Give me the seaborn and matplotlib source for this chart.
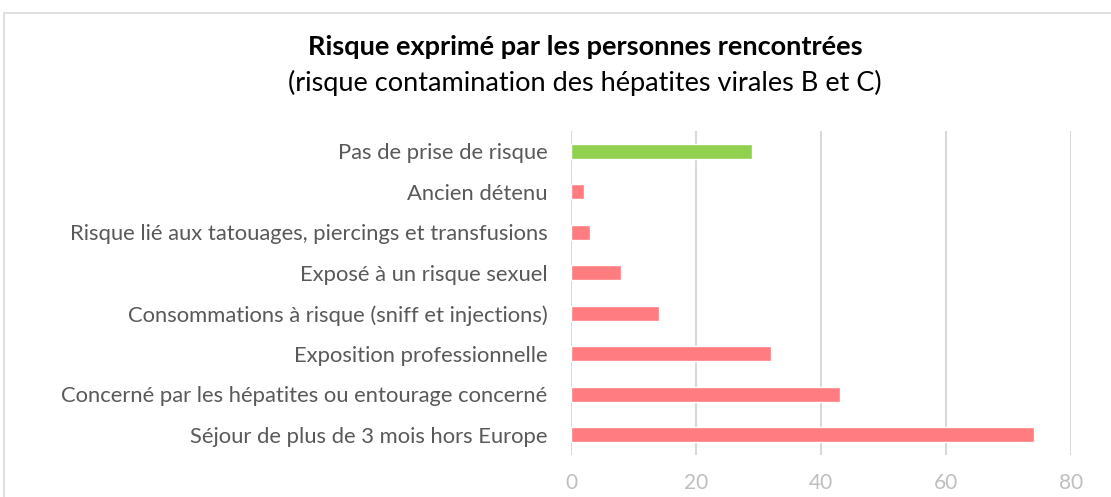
import matplotlib
matplotlib.use("Agg")
import matplotlib.pyplot as plt
import seaborn as sns
import pandas as pd
from matplotlib.patches import Rectangle

categories = [
    "Pas de prise de risque",
    "Ancien détenu",
    "Risque lié aux tatouages, piercings et transfusions",
    "Exposé à un risque sexuel",
    "Consommations à risque (sniff et injections)",
    "Exposition professionnelle",
    "Concerné par les hépatites ou entourage concerné",
    "Séjour de plus de 3 mois hors Europe",
]
values = [29, 2, 3, 8, 14, 32, 43, 74]
groups = ["none", "risk", "risk", "risk", "risk", "risk", "risk", "risk"]
palette = {"none": "#92D050", "risk": "#FF7C80"}
xticks = [0, 20, 40, 60, 80]

sns.set_theme(style="white")
plt.rcParams["font.family"] = ["Lato", "DejaVu Sans"]

df = pd.DataFrame({"cat": categories, "val": values, "grp": groups})

fig = plt.figure(figsize=(11.11, 4.97), dpi=100)
ax = fig.add_axes([571 / 1111, 1 - 455 / 497, 500 / 1111, 324 / 497])

fig.patches.append(Rectangle((4 / 1111, -0.1), 1.2, 1 - 13 / 497 + 0.1,
                             transform=fig.transFigure, fill=False,
                             edgecolor="#D9D9D9", linewidth=1.2))

sns.barplot(data=df, x="val", y="cat", hue="grp", palette=palette,
            order=categories, dodge=False, width=0.38, legend=False, ax=ax,
            saturation=1, zorder=3)

ax.set_xlim(0, 80)
ax.set_ylim(7.5, -0.5)
ax.set_xticks(xticks)
ax.set_xticklabels([str(t) for t in xticks])
ax.grid(axis="x", color="#D9D9D9", linewidth=1.5, zorder=0)
ax.set_axisbelow(True)
for s in ax.spines.values():
    s.set_visible(False)
ax.set_xlabel("")
ax.set_ylabel("")
ax.tick_params(axis="x", colors="#BFBFBF", labelsize=15, length=0, pad=13)
ax.tick_params(axis="y", colors="#595959", labelsize=15.8, length=0, pad=17)
for lbl in ax.get_yticklabels():
    lbl.set_color("#595959")

fig.text(585 / 1111, 1 - 47 / 497, "Risque exprimé par les personnes rencontrées",
         ha="center", va="center", fontsize=19.5, fontweight="bold", color="black")
fig.text(585 / 1111, 1 - 83 / 497, "(risque contamination des hépatites virales B et C)",
         ha="center", va="center", fontsize=19.5, color="black")

fig.savefig("out.png", dpi=100)
